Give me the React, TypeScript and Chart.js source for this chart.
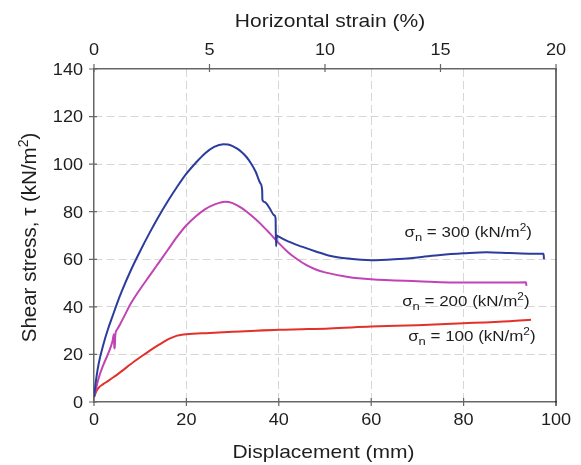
import React, { useEffect, useRef } from 'react';
import { Chart, registerables } from 'chart.js';

Chart.register(...registerables);

const FONT = '"Liberation Sans", Arial, Helvetica, sans-serif';
const SX = 1.13;
const TEXT = '#1e1e1e';
const AXIS = '#666666';

// tick labels
const dispTicks = [0, 20, 40, 60, 80, 100];
const tauTicks = [0, 20, 40, 60, 80, 100, 120, 140];
const strainTicks = [0, 5, 10, 15, 20];

// sigma_n = 300 kN/m2
const disp300 = [0, 0.5, 1, 2, 3, 4, 5, 6, 8, 10, 12, 14, 16, 18, 20, 22, 24, 26, 28, 29, 30, 31, 32, 33, 34, 35, 36, 36.4, 36.45, 37, 38, 39, 39.3, 39.4, 39.6, 40, 42, 45, 48, 51, 55, 60, 65, 70, 75, 80, 85, 90, 95, 97.3, 97.4];
const tau300 = [2, 10, 16, 24, 30.5, 36, 41.5, 46.5, 55.5, 63.5, 71, 78, 84.5, 90.5, 96, 100.5, 104.5, 107.3, 108.4, 108.3, 107.6, 106.5, 105, 103, 100.3, 96.8, 92, 89, 85, 84, 81.5, 78.5, 77.3, 65.5, 70, 69.5, 67.5, 65.3, 63.3, 61.5, 60.3, 59.6, 60, 60.8, 61.8, 62.5, 63, 62.6, 62.3, 62.3, 60];

// sigma_n = 200 kN/m2
const disp200 = [0, 1, 2, 3, 4, 4.3, 4.4, 4.5, 4.6, 5, 6, 8, 10, 12, 14, 16, 18, 20, 22, 24, 26, 28.4, 30, 32, 34, 36, 38, 40, 42, 44, 46, 48, 50, 55, 60, 70, 80, 90, 93.5, 93.6];
const tau200 = [2, 10, 15.5, 20, 25.5, 28.5, 23, 22.5, 28, 30.5, 34, 41.5, 47.5, 53, 58.5, 64, 69.5, 74.3, 78, 81, 83, 84.2, 83.6, 81.5, 78.5, 75, 71, 66.8, 63, 60, 57.5, 55.7, 54.5, 52.6, 51.6, 50.8, 50.2, 50.2, 50.3, 48.8];

// sigma_n = 100 kN/m2
const disp100 = [0, 0.5, 1, 2, 3, 4.2, 6, 8, 10, 12, 14, 16, 17, 18, 19, 20, 25, 30, 35, 40, 45, 51, 60, 70, 80, 90, 94.6];
const tau100 = [2, 4.5, 6, 7.5, 8.8, 10.4, 13, 16, 18.8, 21.5, 24, 26.3, 27.2, 27.9, 28.3, 28.5, 29, 29.5, 30, 30.4, 30.6, 30.9, 31.7, 32.3, 33.1, 34, 34.6];

const seriesNames = ['300', '200', '100'];
const seriesColors = ['#2b3c9c', '#c044b4', '#e2312a'];

type Seg = { t: string; s: number; dy?: number };

function drawRich(ctx: CanvasRenderingContext2D, segs: Seg[], x: number, y: number, align: 'left' | 'center' | 'right', sx = SX) {
  ctx.save();
  let w = 0;
  for (const g of segs) {
    ctx.font = `${g.s}px ${FONT}`;
    w += ctx.measureText(g.t).width;
  }
  let x0 = align === 'left' ? 0 : align === 'center' ? -w / 2 : -w;
  ctx.translate(x, y);
  ctx.scale(sx, 1);
  ctx.textAlign = 'left';
  ctx.textBaseline = 'alphabetic';
  ctx.fillStyle = TEXT;
  for (const g of segs) {
    ctx.font = `${g.s}px ${FONT}`;
    ctx.fillText(g.t, x0, g.dy || 0);
    x0 += ctx.measureText(g.t).width;
  }
  ctx.restore();
}

const decorPlugin = {
  id: 'decor',
  afterDraw(chart: any) {
    const { ctx, chartArea: a, scales } = chart;
    const xs = scales.x, ys = scales.y, x2 = scales.x2;
    ctx.save();
    // right border
    ctx.strokeStyle = '#111';
    ctx.lineWidth = 1.2;
    ctx.beginPath();
    ctx.moveTo(a.right, a.top);
    ctx.lineTo(a.right, a.bottom + 4);
    ctx.stroke();
    // tick marks
    ctx.strokeStyle = AXIS;
    ctx.lineWidth = 1.2;
    ctx.beginPath();
    for (const v of dispTicks) {
      if (v === 100) continue;
      const px = xs.getPixelForValue(v);
      ctx.moveTo(px, a.bottom - 4);
      ctx.lineTo(px, a.bottom + 4);
    }
    for (const v of tauTicks) {
      const py = ys.getPixelForValue(v);
      ctx.moveTo(a.left - 5, py);
      ctx.lineTo(a.left + 3, py);
    }
    for (const v of strainTicks) {
      const px = x2.getPixelForValue(v);
      ctx.moveTo(px, a.top - 5);
      ctx.lineTo(px, a.top + 3);
    }
    ctx.stroke();
    ctx.restore();

    // tick labels
    for (const v of dispTicks) {
      drawRich(ctx, [{ t: String(v), s: 16 }], xs.getPixelForValue(v), 425, 'center');
    }
    for (const v of tauTicks) {
      drawRich(ctx, [{ t: String(v), s: 16 }], 83, ys.getPixelForValue(v) + 5.8, 'right');
    }
    for (const v of strainTicks) {
      drawRich(ctx, [{ t: String(v), s: 16 }], x2.getPixelForValue(v), 55, 'center');
    }

    // axis titles
    drawRich(ctx, [{ t: 'Displacement (mm)', s: 18.6 }], 323.5, 458, 'center');
    drawRich(ctx, [{ t: 'Horizontal strain (%)', s: 18.6 }], 330, 27.3, 'center');
    ctx.save();
    ctx.translate(35.5, 237.5);
    ctx.rotate(-Math.PI / 2);
    drawRich(ctx, [
      { t: 'Shear stress, \u03C4 (kN/m', s: 20.5 },
      { t: '2', s: 14, dy: -8 },
      { t: ')', s: 20.5 },
    ], 0, 0, 'center', 1);
    ctx.restore();

    // curve annotations
    const annPos = [
      { x: 67.2, y: 69.4 },
      { x: 66.7, y: 40.4 },
      { x: 68.0, y: 25.6 },
    ];
    seriesNames.forEach((name, i) => {
      const p = annPos[i];
      drawRich(ctx, [
        { t: '\u03C3', s: 15 },
        { t: 'n', s: 11.5, dy: 4 },
        { t: ` = ${name} (kN/m`, s: 15 },
        { t: '2', s: 10.5, dy: -6 },
        { t: ')', s: 15 },
      ], xs.getPixelForValue(p.x), ys.getPixelForValue(p.y), 'left');
    });
  },
};

function pts(xv: number[], yv: number[]) {
  return xv.map((x, i) => ({ x, y: yv[i] }));
}

export default function App() {
  const ref = useRef<HTMLCanvasElement | null>(null);
  useEffect(() => {
    if (!ref.current) return;
    const gridColor = (c: any) => {
      const v = c.tick ? c.tick.value : null;
      const sc = c.scale;
      if (v === sc.min || v === sc.max) return 'rgba(0,0,0,0)';
      return '#d6d6d6';
    };
    const chart = new Chart(ref.current, {
      type: 'line',
      data: {
        datasets: [
          { data: pts(disp300, tau300), borderColor: seriesColors[0] },
          { data: pts(disp200, tau200), borderColor: seriesColors[1] },
          { data: pts(disp100, tau100), borderColor: seriesColors[2] },
        ].map((d) => ({
          ...d,
          borderWidth: 2,
          pointRadius: 0,
          fill: false,
          cubicInterpolationMode: 'monotone' as const,
        })),
      },
      options: {
        animation: false,
        responsive: false,
        layout: { padding: { left: 0, right: 25, top: 0, bottom: 0 } },
        plugins: { legend: { display: false }, tooltip: { enabled: false } },
        scales: {
          x: {
            type: 'linear',
            position: 'bottom',
            min: 0,
            max: 100,
            ticks: { display: false, stepSize: 20 },
            grid: { color: gridColor, lineWidth: 1, drawTicks: false },
            border: { display: true, color: AXIS, width: 1.5, dash: [8, 4] },
            afterFit: (s: any) => { s.height = 63; },
          },
          x2: {
            type: 'linear',
            position: 'top',
            min: 0,
            max: 20,
            ticks: { display: false, stepSize: 5 },
            grid: { display: false, drawTicks: false },
            border: { display: true, color: AXIS, width: 1.5 },
            afterFit: (s: any) => { s.height = 69; },
          },
          y: {
            type: 'linear',
            position: 'left',
            min: 0,
            max: 140,
            ticks: { display: false, stepSize: 20 },
            grid: { color: gridColor, lineWidth: 1, drawTicks: false },
            border: { display: true, color: AXIS, width: 1.5, dash: [8, 4] },
            afterFit: (s: any) => { s.width = 94; },
          },
        },
      },
      plugins: [decorPlugin],
    } as any);
    return () => chart.destroy();
  }, []);
  return (
    <div style={{ position: 'fixed', left: 0, top: 0, width: 581, height: 465, background: '#fff' }}>
      <canvas ref={ref} width={581} height={465} style={{ display: 'block' }} />
    </div>
  );
}
